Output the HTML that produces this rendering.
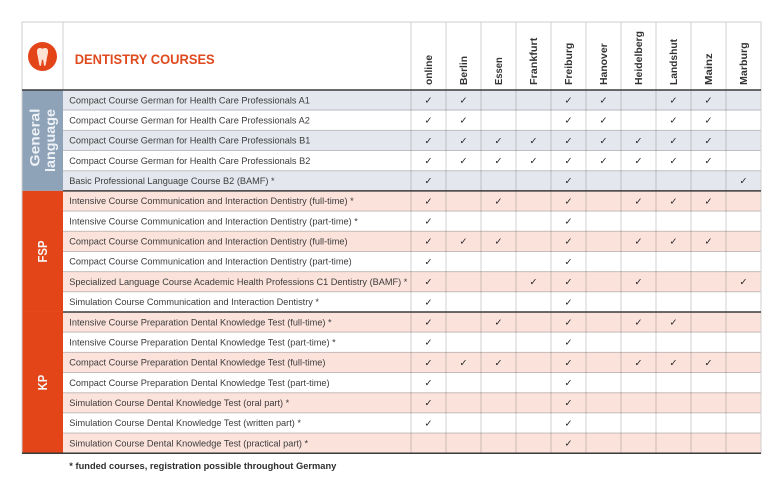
<!DOCTYPE html>
<html><head><meta charset="utf-8"><style>
html,body{margin:0;padding:0;background:#fff;}
svg{display:block;}
</style></head><body>
<svg width="784" height="490" viewBox="0 0 784 490" xmlns="http://www.w3.org/2000/svg">
<rect width="784" height="490" fill="#fff"/>
<!-- stripes -->
<g>
<rect x="63" y="90" width="698" height="20.18" fill="#e4e8ee"/>
<rect x="63" y="130.36" width="698" height="20.18" fill="#e4e8ee"/>
<rect x="63" y="170.72" width="698" height="20.18" fill="#e4e8ee"/>
<rect x="63" y="190.90" width="698" height="20.18" fill="#fbe2db"/>
<rect x="63" y="231.26" width="698" height="20.18" fill="#fbe2db"/>
<rect x="63" y="271.62" width="698" height="20.18" fill="#fbe2db"/>
<rect x="63" y="311.98" width="698" height="20.18" fill="#fbe2db"/>
<rect x="63" y="352.34" width="698" height="20.18" fill="#fbe2db"/>
<rect x="63" y="392.70" width="698" height="20.18" fill="#fbe2db"/>
<rect x="63" y="433.06" width="698" height="20.18" fill="#fbe2db"/>
</g>
<!-- section label columns -->
<rect x="22" y="90" width="41" height="100.9" fill="#8ea3b8"/>
<rect x="22" y="190.9" width="41" height="121.08" fill="#e34519"/>
<rect x="22" y="311.98" width="41" height="141.26" fill="#e34519"/>
<!-- row lines -->
<g stroke="rgba(0,0,0,0.22)" stroke-width="1">
<line x1="63" x2="761" y1="110.18" y2="110.18"/>
<line x1="63" x2="761" y1="130.36" y2="130.36"/>
<line x1="63" x2="761" y1="150.54" y2="150.54"/>
<line x1="63" x2="761" y1="170.72" y2="170.72"/>
<line x1="63" x2="761" y1="211.08" y2="211.08"/>
<line x1="63" x2="761" y1="231.26" y2="231.26"/>
<line x1="63" x2="761" y1="251.44" y2="251.44"/>
<line x1="63" x2="761" y1="271.62" y2="271.62"/>
<line x1="63" x2="761" y1="291.80" y2="291.80"/>
<line x1="63" x2="761" y1="332.16" y2="332.16"/>
<line x1="63" x2="761" y1="352.34" y2="352.34"/>
<line x1="63" x2="761" y1="372.52" y2="372.52"/>
<line x1="63" x2="761" y1="392.70" y2="392.70"/>
<line x1="63" x2="761" y1="412.88" y2="412.88"/>
<line x1="63" x2="761" y1="433.06" y2="433.06"/>
</g>
<!-- vertical lines -->
<g stroke="rgba(0,0,0,0.15)" stroke-width="1.2">
<line x1="63" x2="63" y1="22" y2="90"/>
<line x1="411" x2="411" y1="22" y2="453"/>
<line x1="446" x2="446" y1="22" y2="453"/>
<line x1="481" x2="481" y1="22" y2="453"/>
<line x1="516" x2="516" y1="22" y2="453"/>
<line x1="551" x2="551" y1="22" y2="453"/>
<line x1="586" x2="586" y1="22" y2="453"/>
<line x1="621" x2="621" y1="22" y2="453"/>
<line x1="656" x2="656" y1="22" y2="453"/>
<line x1="691" x2="691" y1="22" y2="453"/>
<line x1="726" x2="726" y1="22" y2="453"/>
</g>
<!-- outer border -->
<rect x="22" y="22" width="739" height="431.24" fill="none" stroke="#cfcfcf" stroke-width="1"/>
<!-- section lines -->
<g stroke="#3a3a3a" stroke-width="1.5">
<line x1="22" x2="761" y1="90" y2="90"/>
<line x1="63" x2="761" y1="190.9" y2="190.9"/>
<line x1="63" x2="761" y1="311.98" y2="311.98"/>
<line x1="22" x2="761" y1="453.24" y2="453.24"/>
</g>
<!-- icon -->
<circle cx="42.5" cy="56.5" r="14.5" fill="#e34519"/>
<path d="M37,51.5 C37,47.5 40,47.3 42.5,48.8 C45,47.3 48,47.5 48,51.5 C48,54.5 47,56.5 46.6,60 L45.6,65 C45.2,66.3 44.2,66.3 43.9,65 L43.2,60.5 C43,59.3 42,59.3 41.8,60.5 L41.1,65 C40.8,66.3 39.8,66.3 39.4,65 L38.4,60 C38,56.5 37,54.5 37,51.5 Z" fill="#fde3d4"/>
<!-- title -->
<text x="74.7" y="64" font-family="Liberation Sans, sans-serif" font-weight="bold" font-size="14" fill="#e04a1f" textLength="140" lengthAdjust="spacingAndGlyphs">DENTISTRY COURSES</text>
<!-- city headers -->
<g font-family="Liberation Sans, sans-serif" font-weight="bold" font-size="10" fill="#333">
<text transform="translate(432,85) rotate(-90)" textLength="30" lengthAdjust="spacingAndGlyphs">online</text>
<text transform="translate(467,85) rotate(-90)" textLength="29" lengthAdjust="spacingAndGlyphs">Berlin</text>
<text transform="translate(502,85) rotate(-90)" textLength="27.7" lengthAdjust="spacingAndGlyphs">Essen</text>
<text transform="translate(537,85) rotate(-90)" textLength="47.3" lengthAdjust="spacingAndGlyphs">Frankfurt</text>
<text transform="translate(572,85) rotate(-90)" textLength="42.3" lengthAdjust="spacingAndGlyphs">Freiburg</text>
<text transform="translate(607,85) rotate(-90)" textLength="41.7" lengthAdjust="spacingAndGlyphs">Hanover</text>
<text transform="translate(642,85) rotate(-90)" textLength="54" lengthAdjust="spacingAndGlyphs">Heidelberg</text>
<text transform="translate(677,85) rotate(-90)" textLength="46" lengthAdjust="spacingAndGlyphs">Landshut</text>
<text transform="translate(712,85) rotate(-90)" textLength="31.7" lengthAdjust="spacingAndGlyphs">Mainz</text>
<text transform="translate(747,85) rotate(-90)" textLength="42.7" lengthAdjust="spacingAndGlyphs">Marburg</text>
</g>
<!-- section labels -->
<g font-family="Liberation Sans, sans-serif" font-weight="bold" fill="#eef1f5" text-anchor="middle">
<text transform="translate(39.3,137.5) rotate(-90)" font-size="14" textLength="58" lengthAdjust="spacingAndGlyphs">General</text>
<text transform="translate(55,140.5) rotate(-90)" font-size="14" textLength="63" lengthAdjust="spacingAndGlyphs">language</text>
</g>
<g font-family="Liberation Sans, sans-serif" font-weight="bold" fill="#f6f6f6" text-anchor="middle">
<text transform="translate(47,251.5) rotate(-90)" font-size="13" textLength="22" lengthAdjust="spacingAndGlyphs">FSP</text>
<text transform="translate(47,382.6) rotate(-90)" font-size="13" textLength="15.5" lengthAdjust="spacingAndGlyphs">KP</text>
</g>
<!-- course names -->
<g font-family="Liberation Sans, sans-serif" font-size="9.2" fill="#3c3c3c">
<text x="69.3" y="103.3">Compact Course German for Health Care Professionals A1</text>
<text x="69.3" y="123.5">Compact Course German for Health Care Professionals A2</text>
<text x="69.3" y="143.6">Compact Course German for Health Care Professionals B1</text>
<text x="69.3" y="163.8">Compact Course German for Health Care Professionals B2</text>
<text x="69.3" y="184.0">Basic Professional Language Course B2 (BAMF) *</text>
<text x="69.3" y="204.2">Intensive Course Communication and Interaction Dentistry (full-time) *</text>
<text x="69.3" y="224.4">Intensive Course Communication and Interaction Dentistry (part-time) *</text>
<text x="69.3" y="244.5">Compact Course Communication and Interaction Dentistry (full-time)</text>
<text x="69.3" y="264.7">Compact Course Communication and Interaction Dentistry (part-time)</text>
<text x="69.3" y="284.9">Specialized Language Course Academic Health Professions C1 Dentistry (BAMF) *</text>
<text x="69.3" y="305.1">Simulation Course Communication and Interaction Dentistry *</text>
<text x="69.3" y="325.3">Intensive Course Preparation Dental Knowledge Test (full-time) *</text>
<text x="69.3" y="345.4">Intensive Course Preparation Dental Knowledge Test (part-time) *</text>
<text x="69.3" y="365.6">Compact Course Preparation Dental Knowledge Test (full-time)</text>
<text x="69.3" y="385.8">Compact Course Preparation Dental Knowledge Test (part-time)</text>
<text x="69.3" y="406.0">Simulation Course Dental Knowledge Test (oral  part) *</text>
<text x="69.3" y="426.2">Simulation Course Dental Knowledge Test (written part) *</text>
<text x="69.3" y="446.3">Simulation Course Dental Knowledge Test (practical part) *</text>
</g>
<!-- checks -->
<g font-family="DejaVu Sans, sans-serif" font-size="9.5" fill="#222" text-anchor="middle">
<!-- row 0 -->
<text x="428.5" y="103.5">✓</text><text x="463.5" y="103.5">✓</text><text x="568.5" y="103.5">✓</text><text x="603.5" y="103.5">✓</text><text x="673.5" y="103.5">✓</text><text x="708.5" y="103.5">✓</text>
<!-- row 1 -->
<text x="428.5" y="123.7">✓</text><text x="463.5" y="123.7">✓</text><text x="568.5" y="123.7">✓</text><text x="603.5" y="123.7">✓</text><text x="673.5" y="123.7">✓</text><text x="708.5" y="123.7">✓</text>
<!-- row 2 -->
<text x="428.5" y="143.8">✓</text><text x="463.5" y="143.8">✓</text><text x="498.5" y="143.8">✓</text><text x="533.5" y="143.8">✓</text><text x="568.5" y="143.8">✓</text><text x="603.5" y="143.8">✓</text><text x="638.5" y="143.8">✓</text><text x="673.5" y="143.8">✓</text><text x="708.5" y="143.8">✓</text>
<!-- row 3 -->
<text x="428.5" y="164.0">✓</text><text x="463.5" y="164.0">✓</text><text x="498.5" y="164.0">✓</text><text x="533.5" y="164.0">✓</text><text x="568.5" y="164.0">✓</text><text x="603.5" y="164.0">✓</text><text x="638.5" y="164.0">✓</text><text x="673.5" y="164.0">✓</text><text x="708.5" y="164.0">✓</text>
<!-- row 4 -->
<text x="428.5" y="184.2">✓</text><text x="568.5" y="184.2">✓</text><text x="743.5" y="184.2">✓</text>
<!-- row 5 -->
<text x="428.5" y="204.4">✓</text><text x="498.5" y="204.4">✓</text><text x="568.5" y="204.4">✓</text><text x="638.5" y="204.4">✓</text><text x="673.5" y="204.4">✓</text><text x="708.5" y="204.4">✓</text>
<!-- row 6 -->
<text x="428.5" y="224.6">✓</text><text x="568.5" y="224.6">✓</text>
<!-- row 7 -->
<text x="428.5" y="244.7">✓</text><text x="463.5" y="244.7">✓</text><text x="498.5" y="244.7">✓</text><text x="568.5" y="244.7">✓</text><text x="638.5" y="244.7">✓</text><text x="673.5" y="244.7">✓</text><text x="708.5" y="244.7">✓</text>
<!-- row 8 -->
<text x="428.5" y="264.9">✓</text><text x="568.5" y="264.9">✓</text>
<!-- row 9 -->
<text x="428.5" y="285.1">✓</text><text x="533.5" y="285.1">✓</text><text x="568.5" y="285.1">✓</text><text x="638.5" y="285.1">✓</text><text x="743.5" y="285.1">✓</text>
<!-- row 10 -->
<text x="428.5" y="305.3">✓</text><text x="568.5" y="305.3">✓</text>
<!-- row 11 -->
<text x="428.5" y="325.5">✓</text><text x="498.5" y="325.5">✓</text><text x="568.5" y="325.5">✓</text><text x="638.5" y="325.5">✓</text><text x="673.5" y="325.5">✓</text>
<!-- row 12 -->
<text x="428.5" y="345.6">✓</text><text x="568.5" y="345.6">✓</text>
<!-- row 13 -->
<text x="428.5" y="365.8">✓</text><text x="463.5" y="365.8">✓</text><text x="498.5" y="365.8">✓</text><text x="568.5" y="365.8">✓</text><text x="638.5" y="365.8">✓</text><text x="673.5" y="365.8">✓</text><text x="708.5" y="365.8">✓</text>
<!-- row 14 -->
<text x="428.5" y="386.0">✓</text><text x="568.5" y="386.0">✓</text>
<!-- row 15 -->
<text x="428.5" y="406.2">✓</text><text x="568.5" y="406.2">✓</text>
<!-- row 16 -->
<text x="428.5" y="426.4">✓</text><text x="568.5" y="426.4">✓</text>
<!-- row 17 -->
<text x="568.5" y="446.5">✓</text>
</g>
<!-- footer -->
<text x="69.3" y="469" font-family="Liberation Sans, sans-serif" font-weight="bold" font-size="9" fill="#2e2e2e" textLength="267" lengthAdjust="spacingAndGlyphs">* funded courses, registration possible throughout Germany</text>
</svg>
</body></html>
